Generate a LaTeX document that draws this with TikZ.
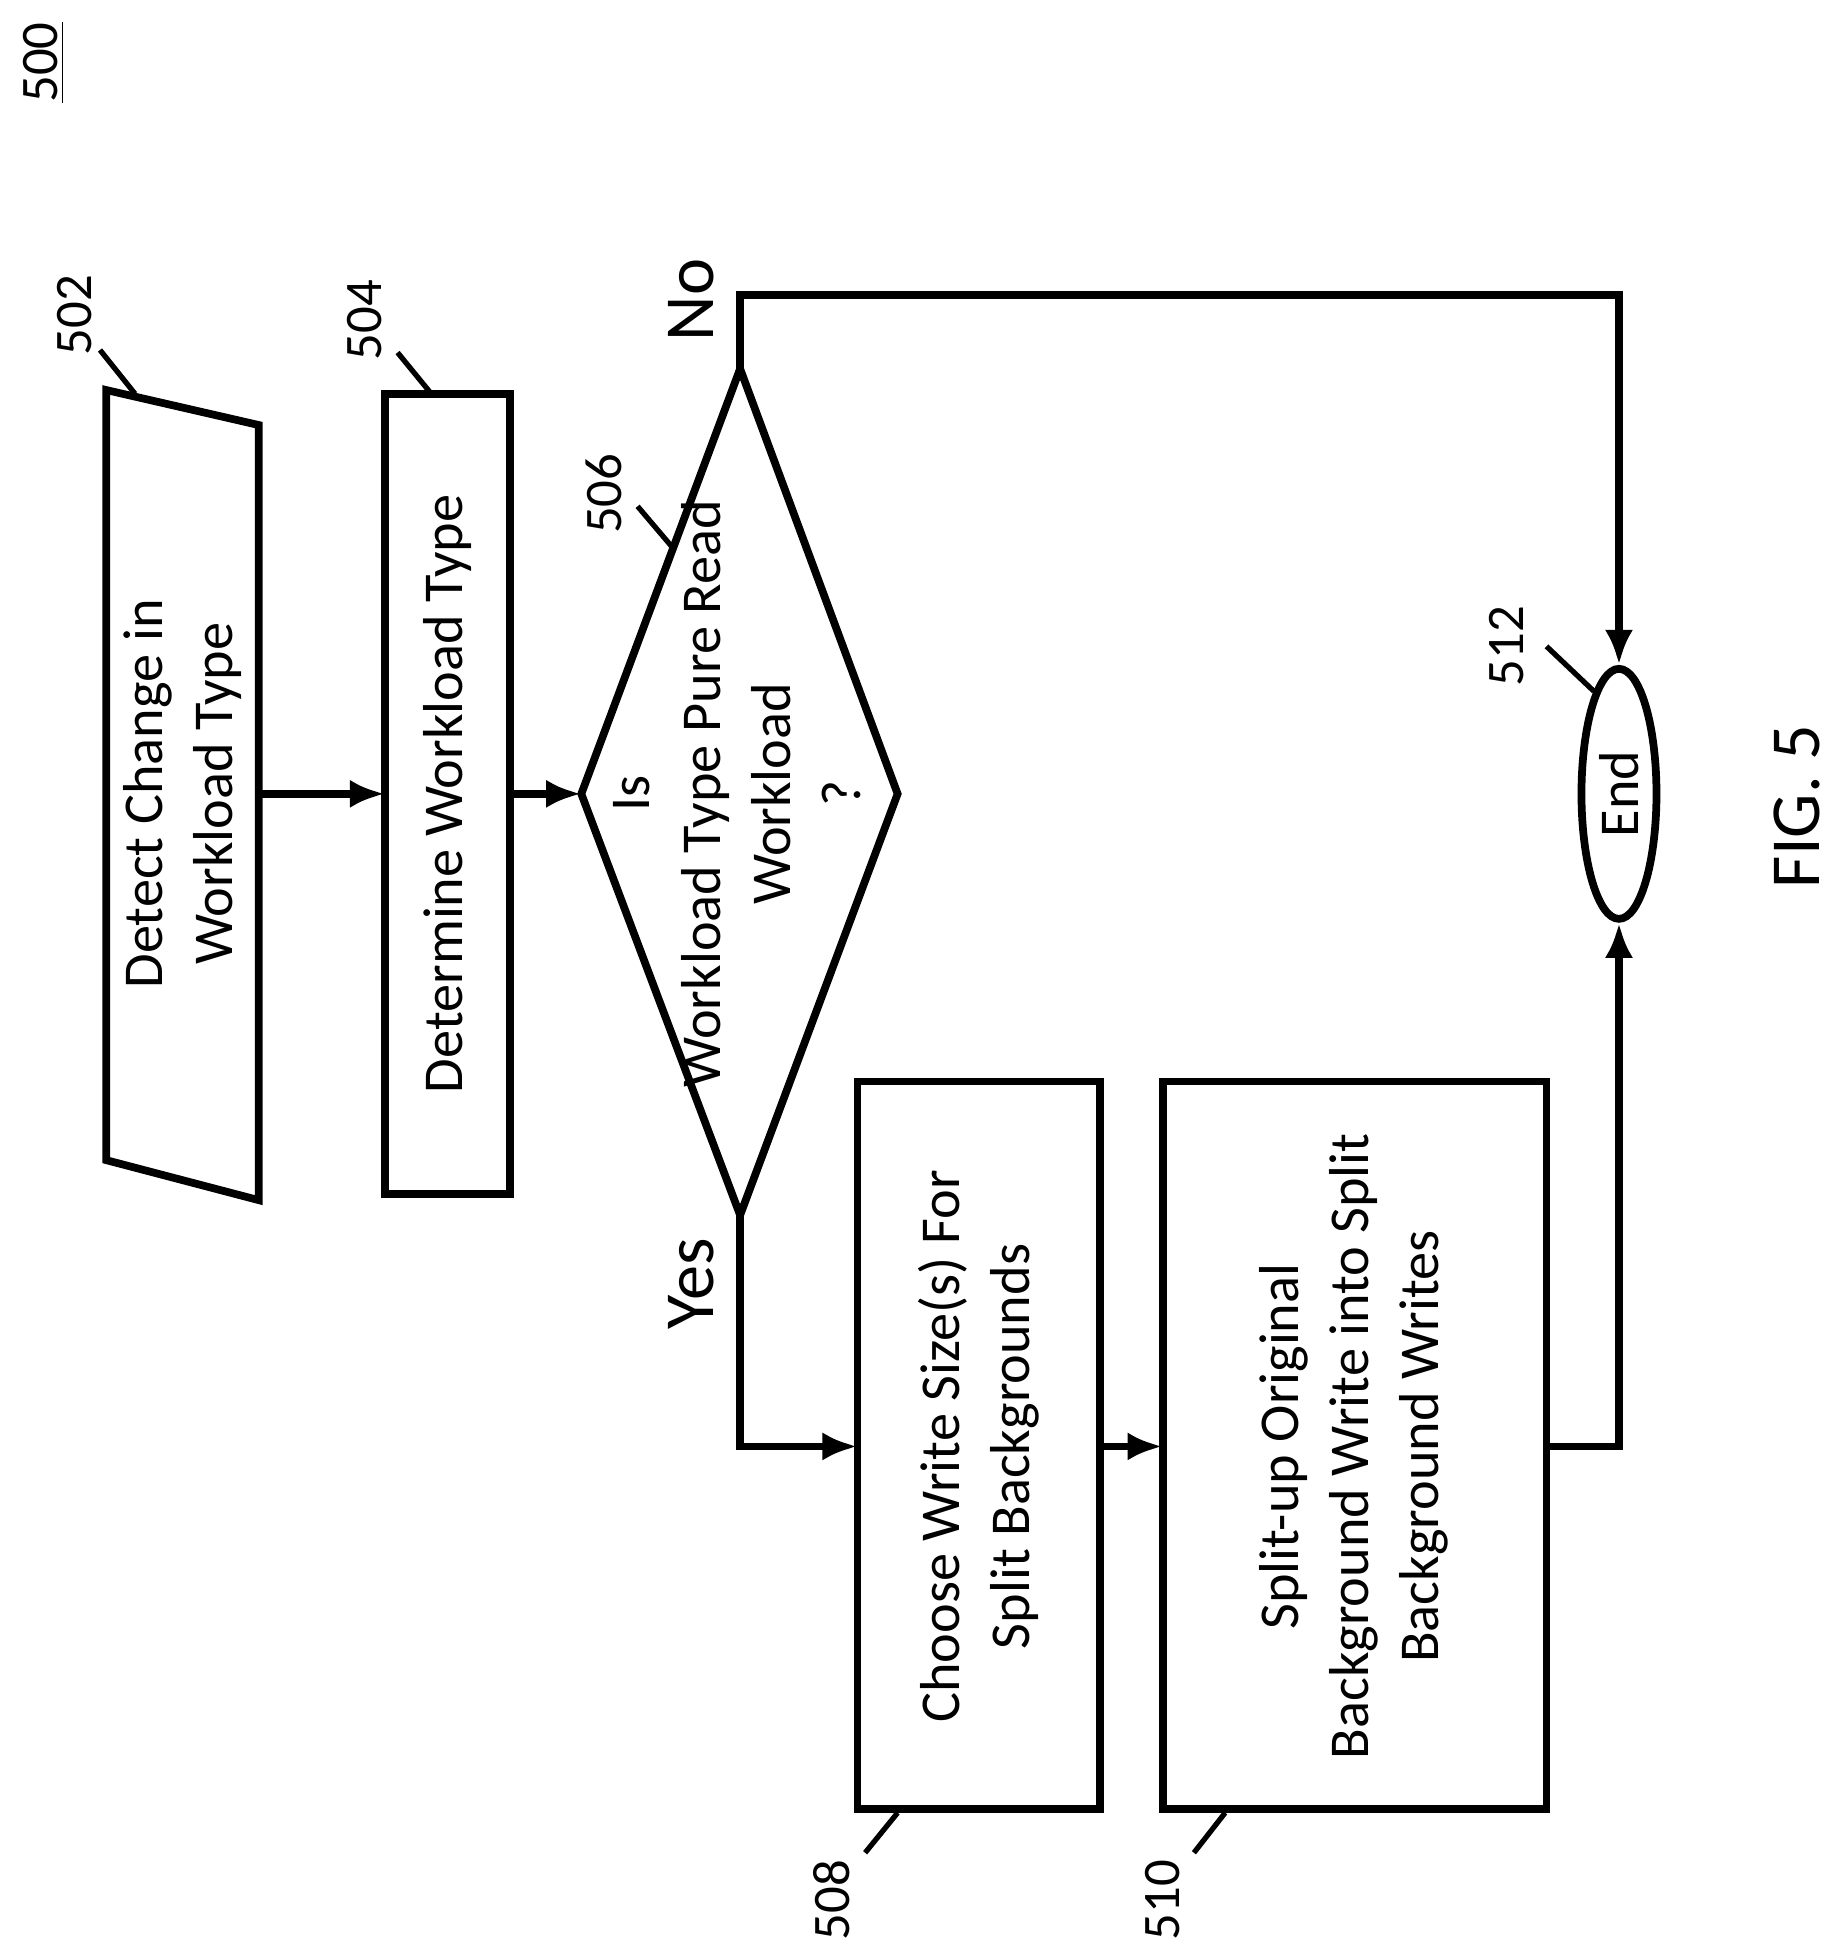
\documentclass[tikz,border=0pt]{standalone}
\usepackage{fontspec}
\setmainfont{Carlito}
\usetikzlibrary{shapes.geometric,arrows.meta}
\begin{document}
\begin{tikzpicture}[x=0.0125cm,y=-0.0125cm,line width=2.2pt,
    txt/.style={rotate=90,align=center,font=\fontsize{16}{20}\selectfont},
    refno/.style={rotate=90,font=\fontsize{15}{18}\selectfont},
    flow/.style={-{Latex[length=10pt,width=8pt]}}]
    \useasboundingbox (0,0) rectangle (1466,1563);
    % label and figure number
    \node[refno] (fig) at (35,50) {\underline{500}};
    \node[rotate=90,font=\fontsize{20}{24}\selectfont] (figno) at (1437,645) {FIG. 5};
    % shapes
    \draw (85,312) -- (207,340) -- (207,960) -- (85,928) -- cycle;
    \node[txt] (detect) at (146,635) {Detect Change in\\Workload Type};
    \coordinate (detectR) at (207,635);
    \draw (308,315) rectangle (408,955);
    \node[txt] (determine) at (358,635) {Determine Workload Type};
    \draw (592,295) -- (718,635) -- (592,972) -- (465,635) -- cycle;
    \node[txt] (isread) at (590,635) {Is\\Workload Type Pure Read\\Workload\\?};
    \draw (686,865) rectangle (880,1447);
    \node[txt] (choose) at (783,1157) {Choose Write Size(s) For\\Split Backgrounds};
    \draw (930,865) rectangle (1237,1447);
    \node[txt] (split) at (1083,1157) {Split-up Original\\Background Write into Split\\Background Writes};
    \node[draw,ellipse,minimum width=200*0.0125cm,minimum height=60*0.0125cm,rotate=90,inner sep=0pt] (end) at (1295,635) {};
    \node[txt] (endtxt) at (1295,635) {End};
    % coordinates
    \coordinate (c504L) at (308,635);
    \coordinate (c504R) at (408,635);
    \coordinate (d506L) at (465,635);
    \coordinate (d506T) at (592,295);
    \coordinate (d506B) at (592,972);
    \coordinate (c508L) at (686,1157);
    \coordinate (c508R) at (880,1157);
    \coordinate (c510L) at (930,1157);
    \coordinate (c510R) at (1237,1157);
    % connectors
    \draw[flow] (detectR) -- (c504L);
    \draw[flow] (c504R) -- (d506L);
    \draw[flow] (d506T) |- (1295,236) -- (end.east);
    \draw[flow] (d506B) |- (c508L);
    \draw[flow] (c508R) -- (c510L);
    \draw[flow] (c510R) -| (end.west);
    \node[rotate=90,font=\fontsize{20}{24}\selectfont] (no) at (553,240) {No};
    \node[rotate=90,font=\fontsize{20}{24}\selectfont] (yes) at (553,1027) {Yes};
    % reference numerals
    \node[refno] (n502) at (60,252) {502};
    \draw[line width=1.5pt] (80,280) -- (108,315);
    \node[refno] (n504) at (292,256) {504};
    \draw[line width=1.5pt] (318,282) -- (345,315);
    \node[refno] (n506) at (483,395) {506};
    \draw[line width=1.5pt] (510,405) -- (538,438);
    \node[refno] (n508) at (665,1520) {508};
    \draw[line width=1.5pt] (692,1482) -- (718,1450);
    \node[refno] (n510) at (930,1520) {510};
    \draw[line width=1.5pt] (955,1482) -- (980,1450);
    \node[refno] (n512) at (1205,517) {512};
    \draw[line width=1.5pt] (1237,517) -- (1275,553);
\end{tikzpicture}
\end{document}
